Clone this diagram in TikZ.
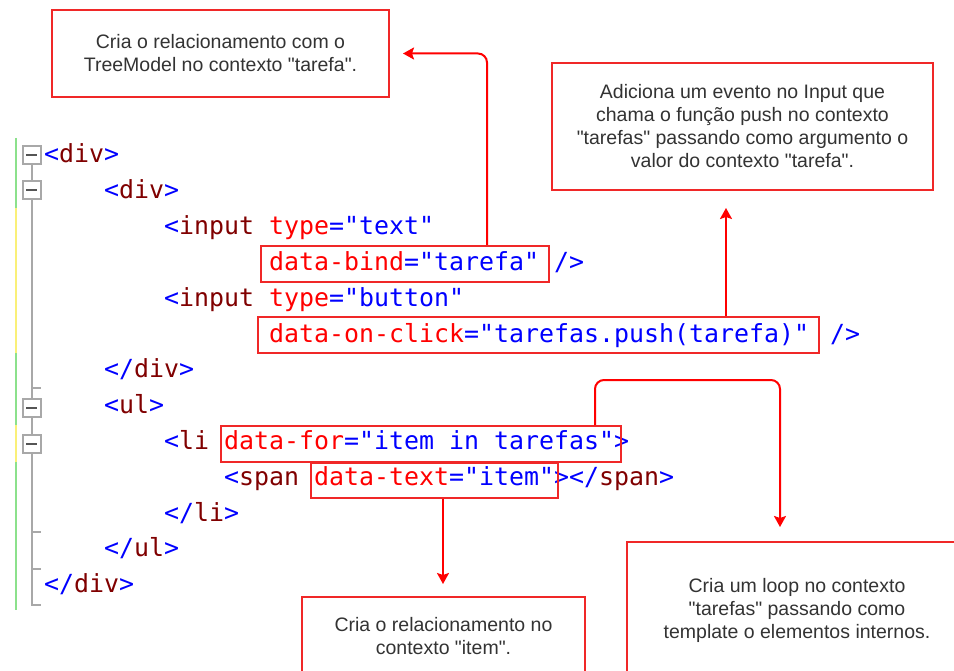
\documentclass[tikz,border=0pt]{standalone}
\usepackage{fontspec}
\usetikzlibrary{arrows.meta}
\newfontfamily\codefont{DejaVu Sans Mono}
\newfontfamily\notefont{Liberation Sans}

\definecolor{cbl}{RGB}{0,0,255}
\definecolor{ctag}{RGB}{128,0,0}
\definecolor{catt}{RGB}{255,0,0}
\definecolor{mark}{RGB}{240,40,40}
\definecolor{notetext}{RGB}{51,51,51}
\definecolor{gutline}{RGB}{168,168,168}
\definecolor{gutminus}{RGB}{85,85,85}
\definecolor{chgreen}{RGB}{140,225,140}
\definecolor{chyellow}{RGB}{250,240,120}

% code helpers
\newcommand\tagO[1]{\textcolor{cbl}{<}\textcolor{ctag}{#1}}
\newcommand\tagC[1]{\textcolor{cbl}{</}\textcolor{ctag}{#1}\textcolor{cbl}{>}}
\newcommand\gtb{\textcolor{cbl}{>}}
\newcommand\attr[2]{\textcolor{catt}{#1}\textcolor{cbl}{="#2"}}

\tikzset{
  code/.style={anchor=base west, inner sep=0pt, font=\codefont\fontsize{24.915}{30}\selectfont},
  hl/.style={draw=mark, line width=2pt, inner sep=0pt},
  note/.style={draw=mark, line width=2pt, align=center, text=notetext,
    font=\notefont\fontsize{19.5}{23}\selectfont},
  arr/.style={draw=red, line width=2pt, rounded corners=9pt,
    -{Stealth[length=11pt,width=12pt,inset=2pt]}},
  fold/.style={draw=gutline, line width=2pt, fill=white, minimum size=18pt, inner sep=0pt},
  gut/.style={draw=gutline, line width=1.6pt},
}

\begin{document}
\begin{tikzpicture}[x=1pt,y=-1pt]
\useasboundingbox (0,0) rectangle (954,671);
\clip (0,0) rectangle (954,671);
\fill[white] (0,0) rectangle (954,671);

% change bar at the left margin
\draw[chgreen, line width=1.6pt] (16,138) -- (16,208);
\draw[chyellow, line width=1.6pt] (16,208) -- (16,353);
\draw[chgreen, line width=1.6pt] (16,353) -- (16,425);
\draw[chyellow, line width=1.6pt] (16,425) -- (16,462);
\draw[chgreen, line width=1.6pt] (16,462) -- (16,610);

% outlining guides
\draw[gut] (32,164) -- (32,182);
\draw[gut] (32,199) -- (32,399);
\draw[gut] (32,388) -- (41,388);
\draw[gut] (32,416) -- (32,435);
\draw[gut] (32,452) -- (32,605) -- (41,605);
\draw[gut] (32,532) -- (41,532);
\draw[gut] (32,569) -- (41,569);
\foreach \n/\y in {f1/155, f2/190.5, f3/407.5, f4/443.5}{
  \node[fold] (\n) at (31.5,\y) {};
  \draw[gutminus, line width=2pt] ([xshift=-5.5pt]\n.center) -- ([xshift=5.5pt]\n.center);
}

% source lines
\node[code] (l1)  at (44,163.0) {\tagO{div}\gtb};
\node[code] (l2)  at (104,198.8) {\tagO{div}\gtb};
\node[code] (l3)  at (164,234.6) {\tagO{input} \attr{type}{text}};
\node[code] (l4)  at (269,270.4) {\attr{data-bind}{tarefa} \textcolor{cbl}{/>}};
\node[code] (l5)  at (164,306.2) {\tagO{input} \attr{type}{button}};
\node[code] (l6)  at (269,342.0) {\attr{data-on-click}{tarefas.push(tarefa)}\hspace{21pt}\textcolor{cbl}{/>}};
\node[code] (l7)  at (104,377.8) {\tagC{div}};
\node[code] (l8)  at (104,413.6) {\tagO{ul}\gtb};
\node[code] (l9)  at (164,449.4) {\tagO{li} \attr{data-for}{item in tarefas}\gtb};
\node[code] (l10) at (224,485.2) {\tagO{span} \attr{data-text}{item}\gtb\tagC{span}};
\node[code] (l11) at (164,521.0) {\tagC{li}};
\node[code] (l12) at (104,556.8) {\tagC{ul}};
\node[code] (l13) at (44,592.6) {\tagC{div}};

% highlighted attributes
\node[hl, minimum width=288pt, minimum height=36pt] (hlbind)  at (405,264) {};
\node[hl, minimum width=561pt, minimum height=36pt] (hlclick) at (538.5,335) {};
\node[hl, minimum width=400pt, minimum height=36pt] (hlfor)   at (421,444) {};
\node[hl, minimum width=247pt, minimum height=35pt] (hltext)  at (434.5,480.5) {};

% explanatory notes
\node[note, minimum width=337pt, minimum height=87pt] (noteA) at (220.5,53.5)
  {Cria o relacionamento com o\\TreeModel no contexto "tarefa".};
\node[note, minimum width=381pt, minimum height=127pt] (noteB) at (742.5,126.5)
  {Adiciona um evento no Input que\\chama o função push no contexto\\"tarefas" passando como argumento o\\valor do contexto "tarefa".};
\node[note, minimum width=283pt, minimum height=78pt] (noteC) at (443.5,636)
  {Cria o relacionamento no\\contexto "item".};
\node[note, minimum width=340pt, minimum height=136pt] (noteD) at (797,610)
  {Cria um loop no contexto\\"tarefas" passando como\\template o elementos internos.};

% connectors
\coordinate (k1) at (487,0);
\coordinate (k2) at (726,0);
\coordinate (k3s) at (595,0);
\coordinate (k3) at (780,380);
\coordinate (k4) at (443,0);
\draw[arr, shorten >=13pt] (hlbind.north -| k1) |- (noteA.east);
\draw[arr, shorten >=17pt] (hlclick.north -| k2) -- (noteB.south -| k2);
\draw[arr, shorten >=14pt] (hlfor.north -| k3s) |- (k3) -- (k3 |- noteD.north);
\draw[arr, shorten >=12pt] (hltext.south -| k4) -- (noteC.north -| k4);
\end{tikzpicture}
\end{document}
